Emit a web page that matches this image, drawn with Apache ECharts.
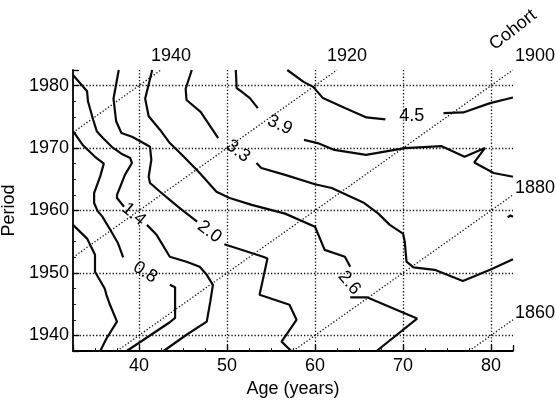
<!DOCTYPE html>
<html>
<head>
<meta charset="utf-8">
<script src="https://cdn.jsdelivr.net/npm/echarts@6/dist/echarts.min.js"></script>
<style>
  html, body { margin: 0; padding: 0; background: #fff; }
  #chart { width: 556px; height: 402px; }
</style>
</head>
<body>
<div id="chart"></div>
<script>
// axis ranges
const ageRange = [32.5, 82.5];
const periodRange = [1937.5, 1982.5];

// cohort diagonals (birth year = period - age)
const cohorts = [1940, 1920, 1900, 1880, 1860];

// contour lines as [age, period] points, split where the level label sits
const level02 = [
  [[32.5,1957.7],[34.1,1955.5],[35.0,1952.9],[35.0,1950.2],[36.1,1947.5],[36.3,1946.5],[36.7,1944.9],[37.5,1942.2],[36.3,1939.5],[35.6,1937.5]]
];
const level08 = [
  [[32.5,1972.7],[33.6,1970.5],[35.0,1968.6],[36.0,1967.5],[35.6,1965.5],[34.9,1962.8],[34.9,1961.2],[35.3,1959.9],[35.8,1959.1],[36.7,1957.0],[37.6,1954.8],[38.2,1952.5]],
  [[43.5,1948.1],[44.1,1947.7],[44.1,1942.8],[43.5,1942.1],[40.1,1938.9],[38.6,1937.5]]
];
const level14 = [
  [[32.5,1981.7],[34.1,1979.1],[34.2,1977.5],[34.8,1974.5],[35.2,1972.7],[35.9,1971.6],[36.9,1970.2],[38.0,1969.1],[39.0,1968.4],[39.2,1967.6],[38.4,1965.7],[37.5,1962.5],[37.5,1962.0],[38.3,1960.6]],
  [[40.9,1957.7],[42.0,1956.1],[43.5,1952.6],[45.4,1951.8],[46.9,1951.0],[47.7,1949.7],[48.4,1948.1],[48.1,1945.4],[47.7,1942.2],[45.4,1940.1],[42.8,1937.5]]
];
const level20 = [
  [[37.7,1982.5],[37.1,1977.9],[37.4,1974.3],[38.0,1972.4],[39.2,1971.8],[40.5,1970.8],[41.25,1970.2],[41.4,1968.1],[41.1,1965.4],[41.25,1964.4],[42.4,1963.0],[43.5,1961.7],[44.7,1960.3],[46.6,1958.2]],
  [[49.7,1954.6],[54.1,1952.6],[54.6,1952.3],[53.7,1946.5],[57.1,1944.9],[57.9,1942.5],[56.2,1939.0],[57.3,1937.5]]
];
const level26 = [
  [[41.5,1982.5],[40.7,1977.9],[41.1,1975.1],[42.4,1972.9],[43.5,1970.8],[45.1,1968.6],[46.9,1966.0],[48.8,1963.0],[50.3,1962.0],[52.8,1960.9],[56.6,1959.5],[60.0,1957.4],[61.1,1953.7],[63.4,1952.6],[64.0,1951.0]],
  [[64.0,1946.1],[65.9,1946.1],[71.6,1942.7],[67.0,1937.5]]
];
const level33 = [
  [[46.0,1982.5],[45.3,1979.5],[45.4,1977.7],[47.0,1975.8],[49.0,1971.6]],
  [[53.35,1967.6],[53.9,1966.8],[56.6,1965.7],[60.0,1964.2],[61.9,1963.6],[65.6,1961.2],[67.2,1959.5],[68.5,1957.7],[70.0,1956.3],[70.2,1955.0],[70.4,1951.8],[71.2,1950.9],[73.6,1950.5],[76.8,1948.7],[79.9,1950.5],[82.5,1952.2]],
  [[81.9,1958.9],[82.2,1959.2],[82.5,1959.0]]
];
const level39 = [
  [[51.0,1982.5],[51.1,1979.6],[51.4,1979.3],[52.6,1978.0],[53.5,1976.4]],
  [[58.75,1971.3],[60.3,1970.8],[62.2,1969.7],[65.8,1968.9],[70.2,1970.0],[74.4,1970.3],[77.0,1968.6],[79.3,1970.0],[78.1,1967.7],[80.3,1966.0],[82.5,1965.4]]
];
const level45 = [
  [[56.85,1982.5],[58.7,1980.6],[59.8,1979.8],[60.9,1978.0],[63.4,1976.4],[65.85,1974.9],[68.0,1974.6]],
  [[74.6,1975.6],[76.85,1975.7],[79.9,1977.2],[82.5,1978.1]]
];

// contour level labels: [text, age, period]
const contourLabels = [
  ['1.4', 39.4, 1959.4],
  ['0.8', 40.7, 1950.1],
  ['2.0', 48.0, 1956.6],
  ['2.6', 63.9, 1948.4],
  ['3.3', 51.25, 1969.5],
  ['3.9', 56.0, 1973.7],
  ['4.5', 71.0, 1975.1]
];
const labelAngles = [-40, -33, -37, -50, -37, -25, 0];

const FONT = 'Liberation Sans';
const INK = '#000';
const DOTS = { color: '#111', width: 1.3, type: [1.3, 2] };
const labelText = { color: INK, fontSize: 18, fontFamily: FONT, textBorderWidth: 0 };

const series = [];

// cohort diagonals, dotted
const cohortEnds = [];
cohorts.forEach(c => {
  const a0 = Math.max(ageRange[0], periodRange[0] - c);
  const a1 = Math.min(ageRange[1], periodRange[1] - c);
  series.push({
    type: 'line',
    data: [[a0, a0 + c], [a1, a1 + c]],
    symbol: 'none',
    silent: true,
    animation: false,
    lineStyle: DOTS,
    z: 1
  });
  const atTop = a1 + c >= periodRange[1];
  const atRight = a1 >= ageRange[1];
  cohortEnds.push({
    value: [a1, a1 + c],
    label: {
      show: true,
      formatter: String(c),
      position: 'inside',
      align: atRight ? 'left' : 'center',
      offset: [atRight ? 2 : 10, atTop ? -14 : -7]
    }
  });
});

// contour lines
[level02, level08, level14, level20, level26, level33, level39, level45].forEach(level => {
  level.forEach(seg => {
    series.push({
      type: 'line',
      data: seg,
      symbol: 'none',
      silent: true,
      animation: false,
      lineStyle: { color: '#0a0a0a', width: 2.2 },
      z: 3
    });
  });
});

// contour level labels
series.push({
  type: 'scatter',
  symbolSize: 0,
  itemStyle: { color: '#fff', opacity: 1 },
  silent: true,
  animation: false,
  clip: false,
  data: contourLabels.map((d, i) => ({
    value: [d[1], d[2]],
    label: { show: true, formatter: d[0], position: 'inside', rotate: labelAngles[i] }
  })),
  label: labelText,
  z: 4
});

// cohort year labels
series.push({
  type: 'scatter',
  symbolSize: 0,
  itemStyle: { color: '#fff', opacity: 1 },
  silent: true,
  animation: false,
  clip: false,
  data: cohortEnds,
  label: labelText,
  z: 4
});

const axisText = { color: INK, fontSize: 18, fontFamily: FONT };
const gridLine = { show: true, showMinLine: false, showMaxLine: false, lineStyle: DOTS };
const plain = v => String(v);

const option = {
  backgroundColor: '#fff',
  animation: false,
  grid: { left: 73, right: 43, top: 70, bottom: 51, containLabel: false, outerBoundsMode: 'none' },
  xAxis: {
    type: 'value',
    min: ageRange[0],
    max: ageRange[1],
    name: 'Age (years)',
    nameLocation: 'middle',
    nameGap: 27,
    nameTextStyle: axisText,
    axisLine: { show: true, onZero: false, lineStyle: { color: INK, width: 1.8 } },
    axisTick: { show: true, inside: true, length: 6, lineStyle: { color: INK, width: 1.3 } },
    minorTick: { show: true, splitNumber: 4, length: 3, lineStyle: { color: '#222' } },
    axisLabel: Object.assign({ showMinLabel: false, showMaxLabel: false, margin: 6, formatter: plain }, axisText),
    splitLine: gridLine
  },
  yAxis: {
    type: 'value',
    min: periodRange[0],
    max: periodRange[1],
    name: 'Period',
    nameLocation: 'middle',
    nameGap: 51,
    nameTextStyle: axisText,
    axisLine: { show: true, onZero: false, lineStyle: { color: INK, width: 1.8 } },
    axisTick: { show: true, inside: true, length: 6, lineStyle: { color: INK, width: 1.3 } },
    minorTick: { show: true, splitNumber: 4, length: 3, lineStyle: { color: '#222' } },
    axisLabel: Object.assign({ showMinLabel: false, showMaxLabel: false, margin: 4, formatter: plain }, axisText),
    splitLine: gridLine
  },
  graphic: [{
    type: 'text',
    x: 513,
    y: 30,
    rotation: 38 * Math.PI / 180,
    style: {
      text: 'Cohort',
      font: '18px "Liberation Sans"',
      fill: INK,
      textAlign: 'center',
      textVerticalAlign: 'middle'
    }
  }],
  series: series
};

const chart = echarts.init(document.getElementById('chart'));
chart.setOption(option);
</script>
</body>
</html>
